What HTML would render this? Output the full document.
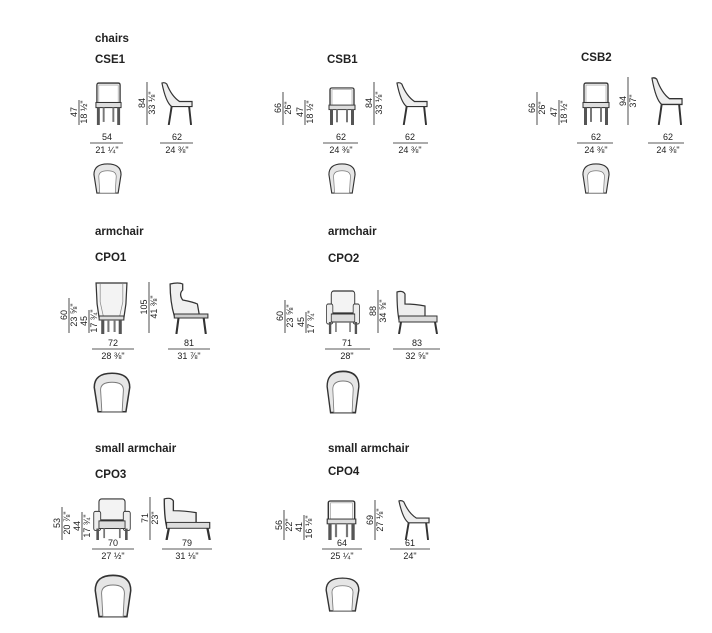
<!DOCTYPE html>
<html><head><style>
body{margin:0;background:#fff}
svg{display:block}
text{font-family:"Liberation Sans",Arial,sans-serif;fill:#222}
.h{font-weight:bold;font-size:11.5px}
.d{font-size:9px;text-anchor:middle}
</style></head><body>
<svg width="712" height="633" viewBox="0 0 712 633">
<defs>
<symbol id="fr" viewBox="0 0 30 42" preserveAspectRatio="none">
<path d="M3 24V3Q3 1 5 1H25Q27 1 27 3V24Z" fill="#f3f3f3" stroke="#333" stroke-width="1.3"/>
<rect x="5" y="3" width="20" height="17" fill="#fff" stroke="#999" stroke-width=".6"/>
<rect x="2" y="20" width="26" height="5" fill="#ddd" stroke="#333" stroke-width="1"/>
<rect x="3" y="25" width="3" height="17" fill="#555"/><rect x="24" y="25" width="3" height="17" fill="#555"/>
<rect x="9" y="25" width="2" height="14" fill="#777"/><rect x="19" y="25" width="2" height="14" fill="#777"/>
</symbol>
<symbol id="sd" viewBox="0 0 34 42" preserveAspectRatio="none">
<path d="M2 1Q5 0 7 2Q12 14 20 19H33V24H12Q6 20 2 1Z" fill="#eee" stroke="#333" stroke-width="1.2"/>
<path d="M12 24L9 42M30 24L32 42" stroke="#333" stroke-width="2" fill="none"/>
</symbol>
<symbol id="tp" viewBox="0 0 30 32" preserveAspectRatio="none">
<path d="M4 31L1 12Q1 1 15 1Q29 1 29 12L26 31Z" fill="#e6e6e6" stroke="#333" stroke-width="1.2"/>
<path d="M7 31L6 14Q6 8 15 8Q24 8 24 14L23 31Z" fill="#fff" stroke="#777" stroke-width=".7"/>
</symbol>
<symbol id="wf" viewBox="0 0 34 52" preserveAspectRatio="none">
<path d="M2 1H32L31 22L29 36H5L3 22Z" fill="#f3f3f3" stroke="#333" stroke-width="1.2"/>
<path d="M6 2V20L9 34M28 2V20L25 34" stroke="#888" fill="none" stroke-width=".7"/>
<rect x="5" y="34" width="24" height="4" fill="#ddd" stroke="#333"/>
<rect x="7" y="38" width="3" height="14" fill="#555"/><rect x="24" y="38" width="3" height="14" fill="#555"/>
<rect x="13" y="38" width="2" height="12" fill="#777"/><rect x="19" y="38" width="2" height="12" fill="#777"/>
</symbol>
<symbol id="ws" viewBox="0 0 40 52" preserveAspectRatio="none">
<path d="M2 2Q10 0 14 2V8Q10 12 14 18Q24 20 28 22L30 34H6Q2 20 2 2Z" fill="#f0f0f0" stroke="#333" stroke-width="1.2"/>
<rect x="6" y="32" width="32" height="4" fill="#ccc" stroke="#333"/>
<path d="M10 36L8 52M34 36L36 52" stroke="#333" stroke-width="2"/>
</symbol>
<symbol id="af" viewBox="0 0 46 44" preserveAspectRatio="none">
<rect x="8" y="1" width="30" height="22" rx="3" fill="#f3f3f3" stroke="#333" stroke-width="1.2"/>
<rect x="2" y="14" width="8" height="20" rx="2" fill="#eee" stroke="#333"/><rect x="36" y="14" width="8" height="20" rx="2" fill="#eee" stroke="#333"/>
<rect x="8" y="24" width="30" height="8" fill="#ddd" stroke="#333"/>
<rect x="5" y="32" width="3" height="12" fill="#555"/><rect x="38" y="32" width="3" height="12" fill="#555"/>
<rect x="13" y="32" width="2" height="10" fill="#777"/><rect x="31" y="32" width="2" height="10" fill="#777"/>
</symbol>
<symbol id="as" viewBox="0 0 44 44" preserveAspectRatio="none">
<path d="M2 2Q8 0 10 4V14Q20 14 30 16V30H4Q2 20 2 2Z" fill="#eee" stroke="#333" stroke-width="1.2"/>
<rect x="4" y="26" width="38" height="6" fill="#ddd" stroke="#333"/>
<path d="M6 32L4 44M40 32L42 44" stroke="#333" stroke-width="2"/>
</symbol>
</defs>

<text class="h" x="95" y="42">chairs</text>
<text class="h" x="95" y="63">CSE1</text>
<text class="h" x="327" y="63">CSB1</text>
<text class="h" x="581" y="61">CSB2</text>
<text class="h" x="95" y="235">armchair</text>
<text class="h" x="95" y="261">CPO1</text>
<text class="h" x="328" y="235">armchair</text>
<text class="h" x="328" y="262">CPO2</text>
<text class="h" x="95" y="452">small armchair</text>
<text class="h" x="95" y="478">CPO3</text>
<text class="h" x="328" y="452">small armchair</text>
<text class="h" x="328" y="475">CPO4</text>

<g stroke="#222" stroke-width=".8">
<line x1="90" y1="143" x2="123" y2="143"/><line x1="160" y1="143" x2="193" y2="143"/>
<line x1="323" y1="143" x2="358" y2="143"/><line x1="393" y1="143" x2="428" y2="143"/>
<line x1="577" y1="143" x2="613" y2="143"/><line x1="648" y1="143" x2="684" y2="143"/>
<line x1="92" y1="349" x2="134" y2="349"/><line x1="168" y1="349" x2="210" y2="349"/>
<line x1="325" y1="349" x2="370" y2="349"/><line x1="393" y1="349" x2="440" y2="349"/>
<line x1="92" y1="549" x2="134" y2="549"/><line x1="162" y1="549" x2="212" y2="549"/>
<line x1="322" y1="549" x2="362" y2="549"/><line x1="390" y1="549" x2="430" y2="549"/>
</g>
<g>
<text class="d" x="107" y="140">54</text><text class="d" x="107" y="153">21 ¼"</text>
<text class="d" x="177" y="140">62</text><text class="d" x="177" y="153">24 ⅜"</text>
<text class="d" x="341" y="140">62</text><text class="d" x="341" y="153">24 ⅜"</text>
<text class="d" x="410" y="140">62</text><text class="d" x="410" y="153">24 ⅜"</text>
<text class="d" x="596" y="140">62</text><text class="d" x="596" y="153">24 ⅜"</text>
<text class="d" x="668" y="140">62</text><text class="d" x="668" y="153">24 ⅜"</text>
<text class="d" x="113" y="346">72</text><text class="d" x="113" y="359">28 ⅜"</text>
<text class="d" x="189" y="346">81</text><text class="d" x="189" y="359">31 ⅞"</text>
<text class="d" x="347" y="346">71</text><text class="d" x="347" y="359">28"</text>
<text class="d" x="417" y="346">83</text><text class="d" x="417" y="359">32 ⅝"</text>
<text class="d" x="113" y="546">70</text><text class="d" x="113" y="559">27 ½"</text>
<text class="d" x="187" y="546">79</text><text class="d" x="187" y="559">31 ⅛"</text>
<text class="d" x="342" y="546">64</text><text class="d" x="342" y="559">25 ¼"</text>
<text class="d" x="410" y="546">61</text><text class="d" x="410" y="559">24"</text>
</g>

<g stroke="#222" stroke-width=".8">
<line x1="79" y1="100" x2="79" y2="125"/><line x1="147" y1="82" x2="147" y2="125"/>
<line x1="283" y1="92" x2="283" y2="125"/><line x1="305" y1="100" x2="305" y2="125"/><line x1="374" y1="82" x2="374" y2="125"/>
<line x1="537" y1="92" x2="537" y2="125"/><line x1="559" y1="100" x2="559" y2="125"/><line x1="628" y1="77" x2="628" y2="125"/>
<line x1="69" y1="298" x2="69" y2="333"/><line x1="89" y1="310" x2="89" y2="333"/><line x1="149" y1="282" x2="149" y2="333"/>
<line x1="285" y1="300" x2="285" y2="333"/><line x1="306" y1="312" x2="306" y2="333"/><line x1="378" y1="290" x2="378" y2="333"/>
<line x1="62" y1="507" x2="62" y2="540"/><line x1="82" y1="512" x2="82" y2="540"/><line x1="150" y1="497" x2="150" y2="540"/>
<line x1="284" y1="510" x2="284" y2="540"/><line x1="304" y1="515" x2="304" y2="540"/><line x1="375" y1="500" x2="375" y2="540"/>
</g>
<g>
<g transform="translate(79,112) rotate(-90)"><text class="d" y="-2">47</text><text class="d" y="8">18 ½"</text></g>
<g transform="translate(147,103) rotate(-90)"><text class="d" y="-2">84</text><text class="d" y="8">33 ⅛"</text></g>
<g transform="translate(283,108) rotate(-90)"><text class="d" y="-2">66</text><text class="d" y="8">26"</text></g>
<g transform="translate(305,112) rotate(-90)"><text class="d" y="-2">47</text><text class="d" y="8">18 ½"</text></g>
<g transform="translate(374,103) rotate(-90)"><text class="d" y="-2">84</text><text class="d" y="8">33 ⅛"</text></g>
<g transform="translate(537,108) rotate(-90)"><text class="d" y="-2">66</text><text class="d" y="8">26"</text></g>
<g transform="translate(559,112) rotate(-90)"><text class="d" y="-2">47</text><text class="d" y="8">18 ½"</text></g>
<g transform="translate(628,101) rotate(-90)"><text class="d" y="-2">94</text><text class="d" y="8">37"</text></g>
<g transform="translate(69,315) rotate(-90)"><text class="d" y="-2">60</text><text class="d" y="8">23 ⅝"</text></g>
<g transform="translate(89,321) rotate(-90)"><text class="d" y="-2">45</text><text class="d" y="8">17 ¾"</text></g>
<g transform="translate(149,307) rotate(-90)"><text class="d" y="-2">105</text><text class="d" y="8">41 ⅜"</text></g>
<g transform="translate(285,316) rotate(-90)"><text class="d" y="-2">60</text><text class="d" y="8">23 ⅝"</text></g>
<g transform="translate(306,322) rotate(-90)"><text class="d" y="-2">45</text><text class="d" y="8">17 ¾"</text></g>
<g transform="translate(378,311) rotate(-90)"><text class="d" y="-2">88</text><text class="d" y="8">34 ⅝"</text></g>
<g transform="translate(62,523) rotate(-90)"><text class="d" y="-2">53</text><text class="d" y="8">20 ⅞"</text></g>
<g transform="translate(82,526) rotate(-90)"><text class="d" y="-2">44</text><text class="d" y="8">17 ¾"</text></g>
<g transform="translate(150,518) rotate(-90)"><text class="d" y="-2">71</text><text class="d" y="8">23"</text></g>
<g transform="translate(284,525) rotate(-90)"><text class="d" y="-2">56</text><text class="d" y="8">22"</text></g>
<g transform="translate(304,527) rotate(-90)"><text class="d" y="-2">41</text><text class="d" y="8">16 ⅛"</text></g>
<g transform="translate(375,520) rotate(-90)"><text class="d" y="-2">69</text><text class="d" y="8">27 ⅛"</text></g>
</g>

<use href="#fr" x="94" y="82" width="29" height="43"/><use href="#sd" x="160" y="82" width="33" height="43"/><use href="#tp" x="93" y="163" width="29" height="31"/>
<use href="#fr" x="327" y="87" width="30" height="38"/><use href="#sd" x="395" y="82" width="33" height="43"/><use href="#tp" x="328" y="163" width="28" height="31"/>
<use href="#fr" x="581" y="82" width="30" height="43"/><use href="#sd" x="650" y="77" width="33" height="48"/><use href="#tp" x="582" y="163" width="28" height="31"/>
<use href="#wf" x="94" y="282" width="35" height="52"/><use href="#ws" x="168" y="282" width="42" height="52"/><use href="#tp" x="93" y="372" width="38" height="41"/>
<use href="#af" x="325" y="290" width="36" height="44"/><use href="#as" x="395" y="290" width="44" height="44"/><use href="#tp" x="326" y="370" width="34" height="44"/>
<use href="#af" x="92" y="498" width="40" height="42"/><use href="#as" x="162" y="497" width="50" height="43"/><use href="#tp" x="94" y="574" width="38" height="44"/>
<use href="#fr" x="325" y="500" width="33" height="40"/><use href="#sd" x="397" y="500" width="33" height="40"/><use href="#tp" x="325" y="577" width="35" height="35"/>
</svg>
</body></html>
